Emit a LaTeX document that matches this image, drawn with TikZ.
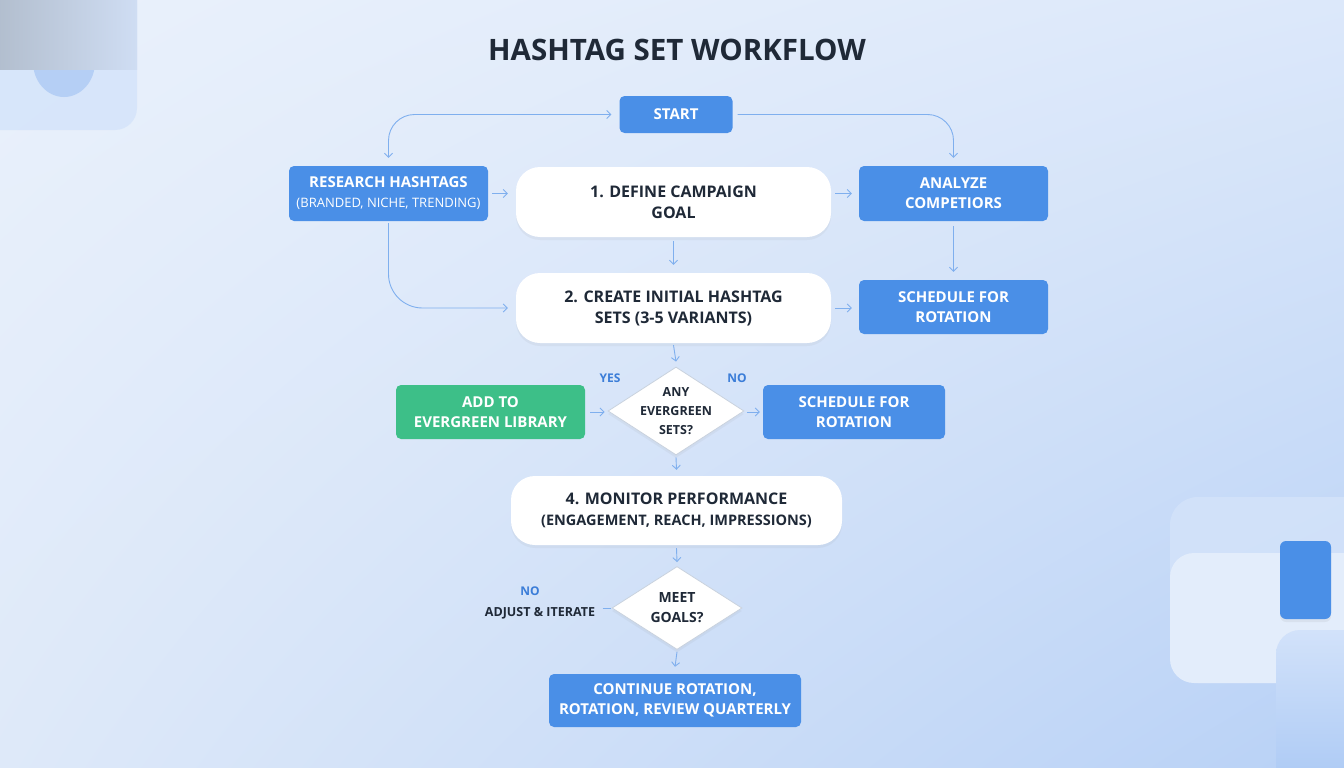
\documentclass[tikz,border=0pt]{standalone}
\usepackage{fontspec}
\setmainfont{Open Sans}
\usetikzlibrary{shapes.geometric,arrows.meta,shadows,shadings}
\definecolor{boxblue}{HTML}{4A8FE7}
\definecolor{boxgreen}{HTML}{3DBF88}
\definecolor{darktext}{HTML}{1F2937}
\definecolor{linec}{HTML}{7FAFEE}
\definecolor{lblblue}{HTML}{3B7DD8}
\definecolor{diamdraw}{HTML}{C9D2DE}
\definecolor{bgtl}{HTML}{EAF1FB}
\definecolor{bgtr}{HTML}{DCE8FA}
\definecolor{bgbl}{HTML}{DEE9F9}
\definecolor{bgbr}{HTML}{B8D1F6}
\definecolor{blobc}{HTML}{B5CFF5}
\definecolor{tlrect}{HTML}{D6E5FA}
\definecolor{tldark}{HTML}{B2BECE}
\definecolor{tlmid}{HTML}{CFDDF3}
\definecolor{brA}{HTML}{D4E3FA}
\definecolor{brB}{HTML}{E3EDFB}
\definecolor{brCt}{HTML}{D2E2FA}
\definecolor{brCb}{HTML}{A8C7F4}
\tikzset{
  x=1pt, y=-1pt,
  base/.style={inner sep=0pt, align=center},
  bluebox/.style={base, rectangle, rounded corners=5pt, fill=boxblue, text=white,
     font=\bfseries\fontsize{15}{20}\selectfont},
  greenbox/.style={bluebox, fill=boxgreen},
  whitebox/.style={base, rectangle, rounded corners=24pt, fill=white, text=darktext,
     font=\bfseries\fontsize{16}{21}\selectfont,
     drop shadow={opacity=0.08, shadow xshift=0pt, shadow yshift=-3pt}},
  diam/.style={diamond, inner sep=0pt, fill=white, draw=diamdraw, line width=0.8pt,
     drop shadow={opacity=0.08, shadow xshift=0pt, shadow yshift=-3pt}},
  dtext/.style={base, text=darktext, font=\bfseries\fontsize{12.5}{19}\selectfont},
  conn/.style={draw=linec, line width=0.9pt, -{Straight Barb[length=4pt,width=8pt]}},
  plain/.style={draw=linec, line width=0.9pt},
  lbl/.style={base, text=lblblue, font=\bfseries\fontsize{12}{14}\selectfont},
}
\begin{document}
\begin{tikzpicture}
\useasboundingbox (0,0) rectangle (1344,768);
% background
\shade[upper left=bgtl, upper right=bgtr, lower left=bgbl, lower right=bgbr] (0,0) rectangle (1344,768);
% top-left decoration
\begin{scope}
\clip (0,0) rectangle (1344,768);
\fill[tlrect, opacity=0.9, rounded corners=22pt] (-40,-40) rectangle (137,130);
\begin{scope}
\clip[rounded corners=22pt] (-40,-40) rectangle (137,130);
\fill[blobc] (64,62) ellipse (31pt and 35pt);
\shade[left color=tldark, right color=tlmid] (-2,-2) rectangle (137,70);
\end{scope}
% bottom-right decoration
\fill[brA, opacity=0.8, rounded corners=28pt] (1170,497) rectangle (1380,683);
\fill[brB, rounded corners=24pt] (1170,553) rectangle (1380,683);
\shade[top color=brCt, bottom color=brCb, rounded corners=24pt] (1276,630) rectangle (1380,800);
\fill[boxblue, rounded corners=6pt, drop shadow={opacity=0.1, shadow xshift=0pt, shadow yshift=-3pt}] (1280,541) rectangle (1331,619);
\end{scope}
% title
\node[base, text=darktext, font=\bfseries\fontsize{29.5}{34}\selectfont] (title) at (677,50) {HASHTAG SET WORKFLOW};
% nodes
\node[bluebox, minimum width=113pt, minimum height=37pt] (start) at (676,114.5) {START};
\node[bluebox, minimum width=199pt, minimum height=55pt] (research) at (388.5,193.5)
  {RESEARCH HASHTAGS\\{\mdseries\fontsize{13}{20}\selectfont (BRANDED, NICHE, TRENDING)}};
\node[whitebox, minimum width=315pt, minimum height=70pt] (define) at (673.5,202) {1. DEFINE CAMPAIGN\\GOAL};
\node[bluebox, minimum width=189pt, minimum height=55pt] (analyze) at (953.5,193.5) {ANALYZE\\COMPETIORS};
\node[whitebox, minimum width=315pt, minimum height=70pt] (create) at (673.5,308) {2. CREATE INITIAL HASHTAG\\SETS (3-5 VARIANTS)};
\node[bluebox, minimum width=189pt, minimum height=54pt] (sched1) at (953.5,307) {SCHEDULE FOR\\ROTATION};
\node[diam, minimum width=136pt, minimum height=88pt] (q1) at (676,411) {};
\node[dtext] (q1t) at (q1.center) {ANY\\EVERGREEN\\SETS?};
\node[greenbox, minimum width=189pt, minimum height=54pt] (lib) at (490.5,412) {ADD TO\\EVERGREEN LIBRARY};
\node[bluebox, minimum width=182pt, minimum height=54pt] (sched2) at (854,412) {SCHEDULE FOR\\ROTATION};
\node[lbl] (yes) at (610,378) {YES};
\node[lbl] (no1) at (737,378) {NO};
\node[whitebox, minimum width=331pt, minimum height=69pt] (monitor) at (676.5,510.5)
  {4. MONITOR PERFORMANCE\\{\fontsize{14.5}{21}\selectfont(ENGAGEMENT, REACH, IMPRESSIONS)}};
\node[diam, minimum width=130pt, minimum height=83pt] (q2) at (677,608) {};
\node[dtext, font=\bfseries\fontsize{14}{20}\selectfont] (q2t) at (q2.center) {MEET\\GOALS?};
\node[lbl] (no2) at (530,591) {NO};
\node[base, text=darktext, font=\bfseries\fontsize{12.5}{14}\selectfont] (adjust) at (540,613) {ADJUST \& ITERATE};
\node[bluebox, minimum width=252pt, minimum height=53pt] (cont) at (675,700.5) {CONTINUE ROTATION,\\ROTATION, REVIEW QUARTERLY};
% connectors
\draw[plain, {Straight Barb[length=4pt,width=8pt]}-{Straight Barb[length=4pt,width=8pt]}, rounded corners=26pt]
  ([yshift=8pt]research.north) |- ([xshift=-8pt]start.west);
\draw[conn, rounded corners=26pt] ([xshift=5pt]start.east) -| ([yshift=8pt]analyze.north);
\draw[conn] ([xshift=4pt]research.east) -- ([xshift=-8pt]research.east -| define.west);
\draw[conn] ([xshift=4pt]analyze.west -| define.east) -- ([xshift=-7pt]analyze.west);
\draw[conn] ([yshift=-4pt]define.south) -- ([yshift=8pt]create.north);
\draw[conn, rounded corners=34pt] ([yshift=-2pt]research.south) |- ([xshift=-8pt]create.west);
\draw[conn] ([yshift=-5pt]analyze.south) -- ([yshift=8pt]sched1.north);
\draw[conn] ([xshift=4pt]create.east) -- ([xshift=-7pt]create.east -| sched1.west);
\draw[conn] ([yshift=-2pt]create.south) -- ([yshift=5pt]q1.north);
\draw[conn] ([xshift=5pt]lib.east) -- ([xshift=-3pt]lib.east -| q1.west);
\draw[conn] ([xshift=3pt]q1.east |- sched2.west) -- ([xshift=-3pt]sched2.west);
\draw[conn] ([yshift=-2pt]q1.south) -- ([yshift=6pt]monitor.north);
\draw[conn] ([yshift=-3pt]monitor.south) -- ([yshift=4pt]q2.north);
\draw[plain] ([xshift=-9pt]q2.west) -- ([xshift=-1pt]q2.west);
\draw[conn] ([yshift=-2pt]q2.south) -- ([yshift=7pt]cont.north);
\end{tikzpicture}
\end{document}
